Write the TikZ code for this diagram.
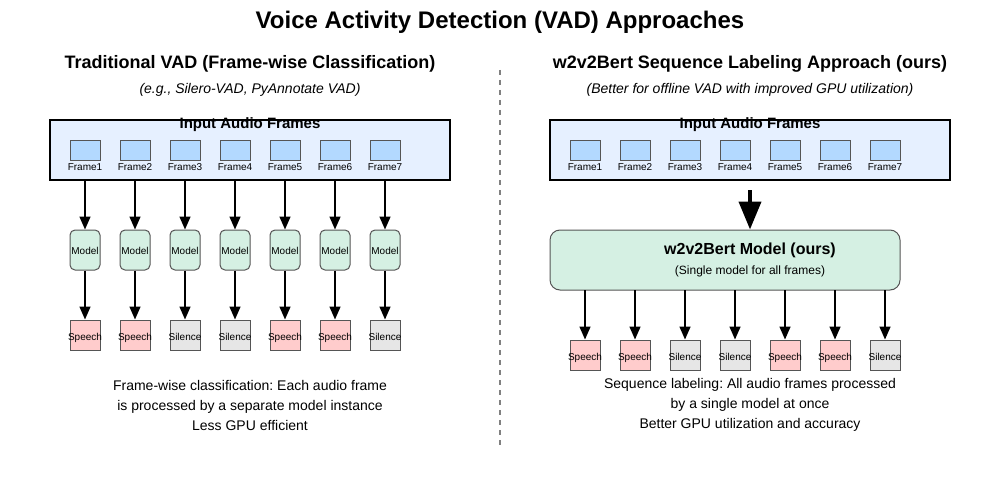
\documentclass[tikz,border=0pt]{standalone}
\usepackage{fontspec}
\setmainfont{Liberation Sans}
\frenchspacing
\usetikzlibrary{arrows.meta}
\definecolor{inbg}{HTML}{E6F0FF}
\definecolor{framefill}{HTML}{B3D9FF}
\definecolor{modelfill}{HTML}{D5F0E3}
\definecolor{speechfill}{HTML}{FFCCCC}
\definecolor{silfill}{HTML}{E6E6E6}
\definecolor{edge}{HTML}{555555}
\tikzset{
  inbox/.style={draw=black, line width=2pt, fill=inbg, minimum width=400pt, minimum height=60pt, inner sep=0pt},
  framebox/.style={draw=edge, line width=1pt, fill=framefill, minimum width=30pt, minimum height=20pt, inner sep=0pt},
  framelab/.style={font=\fontsize{10}{11}\selectfont, inner sep=0pt, text height=7pt, text depth=0pt},
  modelbox/.style={draw=edge, line width=1pt, fill=modelfill, rounded corners=5pt, minimum width=30pt, minimum height=40pt, inner sep=0pt},
  speechbox/.style={draw=edge, line width=1pt, fill=speechfill, minimum width=30pt, minimum height=30pt, inner sep=0pt},
  silbox/.style={draw=edge, line width=1pt, fill=silfill, minimum width=30pt, minimum height=30pt, inner sep=0pt},
  lab/.style={inner sep=0pt, font=\fontsize{10}{11}\selectfont, text height=7pt, text depth=0pt},
  arr/.style={draw=black, line width=1.5pt, -{Triangle[length=13pt,width=11pt]}},
  bigarr/.style={draw=black, line width=4pt, -{Triangle[length=28pt,width=22pt]}},
  txt/.style={inner sep=0pt, align=center}
}
\begin{document}
\begin{tikzpicture}[x=1pt,y=-1pt]
\useasboundingbox (0,0) rectangle (1000,500);
\fill[white] (0,0) rectangle (1000,500);
\node[txt, font=\bfseries\fontsize{24}{28}\selectfont] (title) at (500,22) {Voice Activity Detection (VAD) Approaches};
\node[txt, font=\bfseries\fontsize{18}{20}\selectfont] (lt) at (250,64) {Traditional VAD (Frame-wise Classification)};
\node[txt, font=\itshape\fontsize{14}{16}\selectfont] (ls) at (250,90) {(e.g., Silero-VAD, PyAnnotate VAD)};
\node[txt, font=\bfseries\fontsize{18}{20}\selectfont] (rt) at (750,64) {w2v2Bert Sequence Labeling Approach (ours)};
\node[txt, font=\itshape\fontsize{14}{16}\selectfont] (rs) at (750,90) {(Better for offline VAD with improved GPU utilization)};
\coordinate (d1) at (500,70);
\coordinate (d2) at (500,445);
\draw[draw=gray, line width=1.5pt, dash pattern=on 5pt off 5pt] (d1) -- (d2);

% left
\node[inbox] (lin) at (250,150) {};
\node[txt, font=\bfseries\fontsize{15}{17}\selectfont] (lint) at (250,125) {Input Audio Frames};
\foreach \i/\lab [evaluate=\i as \x using 35+50*\i] in {1/Speech,2/Speech,3/Silence,4/Silence,5/Speech,6/Speech,7/Silence}{
  \node[framebox] (lf\i) at (\x,150) {};
  \node[framelab] (lfl\i) at (\x,167) {Frame\i};
  \coordinate (ls\i) at (\x,180);
  \node[modelbox] (lm\i) at (\x,250) {};
  \node[lab] at (\x,251) {Model};
  \ifnum\pdfstrcmp{\lab}{Speech}=0
    \node[speechbox] (lo\i) at (\x,335) {};
  \else
    \node[silbox] (lo\i) at (\x,335) {};
  \fi
  \node[lab] at (\x,337) {\lab};
  \draw[arr] (ls\i) -- (lm\i.north);
  \draw[arr] (lm\i.south) -- (lo\i.north);
}
\node[txt, font=\fontsize{14}{20}\selectfont] (lb) at (250,405) {Frame-wise classification: Each audio frame\\is processed by a separate model instance\\Less GPU efficient};

% right
\node[inbox] (rin) at (750,150) {};
\node[txt, font=\bfseries\fontsize{15}{17}\selectfont] (rint) at (750,125) {Input Audio Frames};
\node[draw=edge, line width=1pt, fill=modelfill, rounded corners=10pt, minimum width=350pt, minimum height=60pt, inner sep=0pt] (rm) at (725,260) {};
\node[txt, font=\bfseries\fontsize{16}{18}\selectfont] (rmt) at (750,250) {w2v2Bert Model (ours)};
\node[txt, font=\fontsize{12}{14}\selectfont] (rms) at (750,271) {(Single model for all frames)};
\coordinate (rbig) at (750,190);
\draw[bigarr] (rbig) -- (rm.north -| rbig);
\foreach \i/\lab [evaluate=\i as \x using 535+50*\i] in {1/Speech,2/Speech,3/Silence,4/Silence,5/Speech,6/Speech,7/Silence}{
  \node[framebox] (rf\i) at (\x,150) {};
  \node[framelab] (rfl\i) at (\x,167) {Frame\i};
  \coordinate (rs\i) at (\x,290);
  \ifnum\pdfstrcmp{\lab}{Speech}=0
    \node[speechbox] (ro\i) at (\x,355) {};
  \else
    \node[silbox] (ro\i) at (\x,355) {};
  \fi
  \node[lab] at (\x,357) {\lab};
  \draw[arr] (rs\i) -- (ro\i.north);
}
\node[txt, font=\fontsize{14}{20}\selectfont] (rb) at (750,405) {Sequence labeling: All audio frames processed\\by a single model at once\\Better GPU utilization and accuracy};
\end{tikzpicture}
\end{document}
